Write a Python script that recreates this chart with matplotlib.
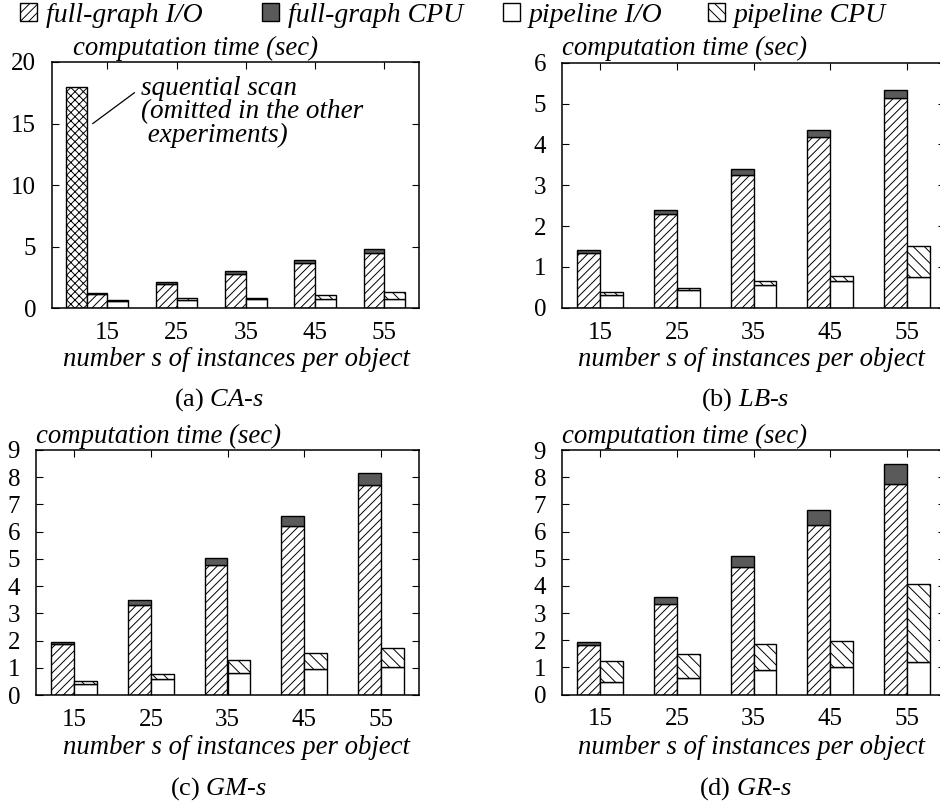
import matplotlib
matplotlib.use("Agg")
import matplotlib.pyplot as plt
from matplotlib.patches import Patch

plt.rcParams['font.family'] = ['Liberation Serif', 'DejaVu Serif']
plt.rcParams['mathtext.fontset'] = 'custom'
plt.rcParams['mathtext.rm'] = 'Liberation Serif'
plt.rcParams['mathtext.it'] = 'Liberation Serif:italic'
plt.rcParams['hatch.linewidth'] = 0.7

s_values = [15, 25, 35, 45, 55]

# sequential scan (only shown in CA-s)
scan_s = [15]
scan_time = [18.0]

# CA-s
ca_fg_io = [1.12, 1.98, 2.76, 3.65, 4.50]
ca_fg_cpu = [0.10, 0.13, 0.22, 0.22, 0.32]
ca_pl_io = [0.57, 0.68, 0.73, 0.76, 0.76]
ca_pl_cpu = [0.11, 0.16, 0.11, 0.32, 0.57]

# LB-s
lb_fg_io = [1.35, 2.29, 3.24, 4.19, 5.13]
lb_fg_cpu = [0.06, 0.10, 0.15, 0.17, 0.21]
lb_pl_io = [0.31, 0.43, 0.56, 0.65, 0.75]
lb_pl_cpu = [0.07, 0.06, 0.09, 0.13, 0.75]

# GM-s
gm_fg_io = [1.86, 3.32, 4.76, 6.21, 7.73]
gm_fg_cpu = [0.08, 0.16, 0.27, 0.37, 0.43]
gm_pl_io = [0.40, 0.57, 0.79, 0.94, 1.04]
gm_pl_cpu = [0.12, 0.19, 0.49, 0.59, 0.67]

# GR-s
gr_fg_io = [1.81, 3.33, 4.69, 6.23, 7.74]
gr_fg_cpu = [0.12, 0.25, 0.40, 0.56, 0.76]
gr_pl_io = [0.45, 0.62, 0.90, 1.00, 1.19]
gr_pl_cpu = [0.79, 0.86, 0.97, 0.97, 2.89]

legend_labels = ['full-graph I/O', 'full-graph CPU', 'pipeline I/O', 'pipeline CPU']

W, H = 940, 806
fig = plt.figure(figsize=(W / 100, H / 100), dpi=100)


def px_axes(l, t, r, b):
    return fig.add_axes([l / W, 1 - b / H, (r - l) / W, (b - t) / H])


def ftext(x, y, s, **kw):
    fig.text(x / W, 1 - y / H, s, **kw)


cpu_color = '#5a5a5a'
fg_hatch = '////'
pl_hatch = '\\\\\\'
bw = 3


def draw(ax, fg_io, fg_cpu, pl_io, pl_cpu):
    fg_x = [v - bw / 2 for v in s_values]
    pl_x = [v + bw / 2 for v in s_values]
    ax.bar(fg_x, fg_io, bw, color='white', edgecolor='black', hatch=fg_hatch, lw=1, zorder=2)
    ax.bar(fg_x, fg_cpu, bw, bottom=fg_io, color=cpu_color, edgecolor='black', lw=1, zorder=2)
    ax.bar(pl_x, pl_io, bw, color='white', edgecolor='black', lw=1, zorder=2)
    ax.bar(pl_x, pl_cpu, bw, bottom=pl_io, color='white', edgecolor='black', hatch=pl_hatch, lw=1, zorder=2)
    ax.set_xticks(s_values)
    ax.tick_params(direction='in', length=5, top=True, right=True, labelsize=18, pad=11.5)
    ax.tick_params(axis='x', pad=10)
    for sp in ax.spines.values():
        sp.set_linewidth(1.1)


ax_a = px_axes(52, 62, 419, 308)
ax_a.bar([v - 1.5 * bw for v in scan_s], scan_time, bw, color='white', edgecolor='black',
         hatch='xxxx', lw=1, zorder=2)
draw(ax_a, ca_fg_io, ca_fg_cpu, ca_pl_io, ca_pl_cpu)
ax_a.set_xlim(7, 60)
ax_a.set_ylim(0, 20)
ax_a.set_yticks([0, 5, 10, 15, 20])
ax_a.plot([12.9, 18.9], [15.0, 17.5], color='black', lw=0.9, zorder=3)
ax_a.text(19.8, 18.9, "squential scan\n(omitted in the other\n experiments)", fontsize=19.5,
          style='italic', va='top', ha='left', linespacing=0.92)

ax_b = px_axes(562, 62.7, 945, 307.7)
draw(ax_b, lb_fg_io, lb_fg_cpu, lb_pl_io, lb_pl_cpu)
ax_b.set_xlim(10, 60)
ax_b.set_ylim(0, 6)
ax_b.set_yticks(range(0, 7))

ax_c = px_axes(36, 450, 419, 695)
draw(ax_c, gm_fg_io, gm_fg_cpu, gm_pl_io, gm_pl_cpu)
ax_c.set_xlim(10, 60)
ax_c.set_ylim(0, 9)
ax_c.set_yticks(range(0, 10))

ax_d = px_axes(562, 450, 945, 694.5)
draw(ax_d, gr_fg_io, gr_fg_cpu, gr_pl_io, gr_pl_cpu)
ax_d.set_xlim(10, 60)
ax_d.set_ylim(0, 9)
ax_d.set_yticks(range(0, 10))

# axis titles, x labels and captions
lab = dict(fontsize=19.3, style='italic', va='baseline')
ftext(73, 55, "computation time (sec)", ha='left', **lab)
ftext(562, 55, "computation time (sec)", ha='left', **lab)
ftext(36, 443, "computation time (sec)", ha='left', **lab)
ftext(562, 443, "computation time (sec)", ha='left', **lab)

ftext(236, 366, "number s of instances per object", ha='center', **lab)
ftext(751, 366, "number s of instances per object", ha='center', **lab)
ftext(236, 754, "number s of instances per object", ha='center', **lab)
ftext(751, 754, "number s of instances per object", ha='center', **lab)

cap = dict(fontsize=19, ha='center', va='baseline')
ftext(219, 406, r"(a) $\mathit{CA}$-$s$", **cap)
ftext(745, 406, r"(b) $\mathit{LB}$-$s$", **cap)
ftext(219, 795, r"(c) $\mathit{GM}$-$s$", **cap)
ftext(745, 795, r"(d) $\mathit{GR}$-$s$", **cap)

# legend, one entry at a time so each sits where the original has it
handles = [
    Patch(facecolor='white', edgecolor='black', hatch=fg_hatch),
    Patch(facecolor=cpu_color, edgecolor='black'),
    Patch(facecolor='white', edgecolor='black'),
    Patch(facecolor='white', edgecolor='black', hatch=pl_hatch),
]
legend_x = [20, 262, 503, 708]
for h, name, x in zip(handles, legend_labels, legend_x):
    h.set_label(name)
    fig.legend(handles=[h], loc='center left', bbox_to_anchor=(x / W, 1 - 15 / H),
               frameon=False, prop={'style': 'italic', 'size': 20}, handlelength=0.62,
               handleheight=0.62, handletextpad=0.3, borderpad=0, borderaxespad=0)

fig.savefig("out.png", dpi=100)
